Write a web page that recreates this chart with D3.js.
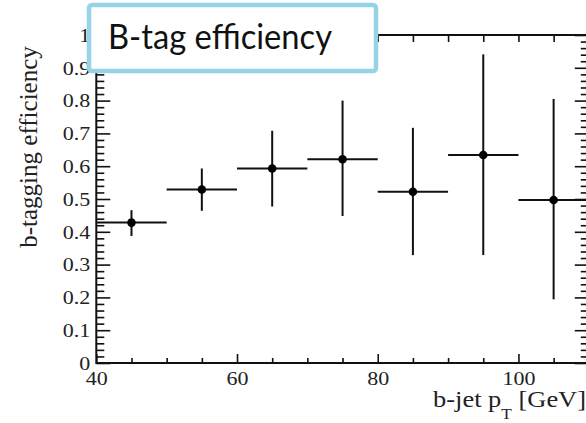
<!DOCTYPE html>
<html>
<head>
<meta charset="utf-8">
<script src="https://cdn.jsdelivr.net/npm/d3@7"></script>
<style>
  body { margin: 0; background: #fff; }
  svg { display: block; }
</style>
</head>
<body>
<div id="vis"></div>
<script>
var width = 586,
    height = 423;

// data
var binLow  = [40, 50, 60, 70, 80, 90, 100];
var binHigh = [50, 60, 70, 80, 90, 100, 110];
var binMid  = [45, 55, 65, 75, 85, 95, 105];
var eff     = [0.428, 0.529, 0.593, 0.621, 0.522, 0.634, 0.497];
var effLow  = [0.387, 0.464, 0.477, 0.448, 0.329, 0.329, 0.194];
var effHigh = [0.466, 0.593, 0.708, 0.800, 0.717, 0.941, 0.805];

var xMajor = [40, 60, 80, 100];
var xMinor = [45, 50, 55, 65, 70, 75, 85, 90, 95, 105];
var yMajor = [0, 0.1, 0.2, 0.3, 0.4, 0.5, 0.6, 0.7, 0.8, 0.9, 1];
var yMinor = d3.range(0, 50).map(function(i) { return i / 50; })
    .filter(function(v, i) { return i % 5 != 0; });

var yLabels = ["0", "0.1", "0.2", "0.3", "0.4", "0.5", "0.6", "0.7", "0.8", "0.9", "1"];

var titleText = "B-tag efficiency";

// plot box (note: "top" is reserved on window, so prefixed names)
var pLeft = 96.3, pRight = 588.8, pTop = 35, pBottom = 363;

var svg = d3.select("#vis").append("svg")
    .attr("width", width)
    .attr("height", height);

var x = d3.scaleLinear().domain([40, 110]).range([pLeft, pRight]);
var y = d3.scaleLinear().domain([0, 1]).range([pBottom, pTop]);

var serif = "'Liberation Serif', 'Times New Roman', serif";
var stretch = "scale(1.13,1)";

// frame
svg.append("rect")
    .attr("x", pLeft).attr("y", pTop)
    .attr("width", pRight - pLeft).attr("height", pBottom - pTop)
    .attr("fill", "none")
    .attr("stroke", "#111")
    .attr("stroke-width", 2);

function styleAxis(g) {
  g.select(".domain").remove();
  g.selectAll("line").attr("stroke", "#111").attr("stroke-width", 1.6);
  g.selectAll("text")
    .attr("fill", "#222")
    .style("font-family", serif)
    .style("font-size", "19.5px");
}

// bottom axis
svg.append("g")
    .attr("transform", "translate(0," + pBottom + ")")
    .call(d3.axisBottom(x).tickValues(xMajor).tickSize(-9).tickPadding(8).tickFormat(d3.format("d")))
    .call(styleAxis)
    .selectAll("text").attr("transform", stretch);

svg.append("g")
    .attr("transform", "translate(0," + pBottom + ")")
    .call(d3.axisBottom(x).tickValues(xMinor).tickSize(-5).tickFormat(""))
    .call(styleAxis);

// top axis
svg.append("g")
    .attr("transform", "translate(0," + pTop + ")")
    .call(d3.axisTop(x).tickValues(xMajor.concat(xMinor)).tickSize(-7).tickFormat(""))
    .call(styleAxis);

// left axis
svg.append("g")
    .attr("transform", "translate(" + pLeft + ",0)")
    .call(d3.axisLeft(y).tickValues(yMajor).tickSize(-14).tickPadding(6)
      .tickFormat(function(d, i) { return yLabels[i]; }))
    .call(styleAxis)
    .selectAll("text").attr("transform", stretch).attr("x", -6 / 1.13);

svg.append("g")
    .attr("transform", "translate(" + pLeft + ",0)")
    .call(d3.axisLeft(y).tickValues(yMinor).tickSize(-8).tickFormat(""))
    .call(styleAxis);

// right axis
svg.append("g")
    .attr("transform", "translate(" + pRight + ",0)")
    .call(d3.axisRight(y).tickValues(yMajor).tickSize(-14).tickFormat(""))
    .call(styleAxis);

svg.append("g")
    .attr("transform", "translate(" + pRight + ",0)")
    .call(d3.axisRight(y).tickValues(yMinor).tickSize(-8).tickFormat(""))
    .call(styleAxis);

// points with error bars
var pts = svg.selectAll("g.pt")
    .data(binMid)
    .enter()
    .append("g")
    .attr("class", "pt");

pts.append("line")
    .attr("x1", function(d, i) { return x(binLow[i]); })
    .attr("x2", function(d, i) { return x(binHigh[i]); })
    .attr("y1", function(d, i) { return y(eff[i]); })
    .attr("y2", function(d, i) { return y(eff[i]); })
    .attr("stroke", "#111")
    .attr("stroke-width", 2);

pts.append("line")
    .attr("x1", function(d) { return x(d); })
    .attr("x2", function(d) { return x(d); })
    .attr("y1", function(d, i) { return y(effLow[i]); })
    .attr("y2", function(d, i) { return y(effHigh[i]); })
    .attr("stroke", "#111")
    .attr("stroke-width", 2);

pts.append("circle")
    .attr("cx", function(d) { return x(d); })
    .attr("cy", function(d, i) { return y(eff[i]); })
    .attr("r", 4.3)
    .attr("fill", "#000");

// axis titles
svg.append("text")
    .attr("transform", "translate(37,147) rotate(-90)")
    .attr("text-anchor", "middle")
    .style("font-family", serif)
    .style("font-size", "25px")
    .attr("fill", "#222")
    .text("b-tagging efficiency");

var xl = svg.append("g")
    .attr("transform", "translate(586,407) scale(1.15,1)");

var xt = xl.append("text")
    .attr("text-anchor", "end")
    .style("font-family", serif)
    .style("font-size", "23px")
    .attr("fill", "#222");
xt.append("tspan").text("b-jet p");
xt.append("tspan").attr("dy", 12).style("font-size", "15px").text("T");
xt.append("tspan").attr("dy", -12).text(" [GeV]");

// title box
svg.append("rect")
    .attr("x", 89)
    .attr("y", 5)
    .attr("width", 287)
    .attr("height", 66)
    .attr("rx", 3)
    .attr("fill", "#fff")
    .attr("stroke", "#97d3e7")
    .attr("stroke-width", 4.5);

svg.append("text")
    .attr("x", 108)
    .attr("y", 49)
    .attr("textLength", 224)
    .attr("lengthAdjust", "spacingAndGlyphs")
    .style("font-family", "Lato, 'Open Sans', sans-serif")
    .style("font-size", "34px")
    .attr("fill", "#111")
    .text(titleText);
</script>
</body>
</html>
